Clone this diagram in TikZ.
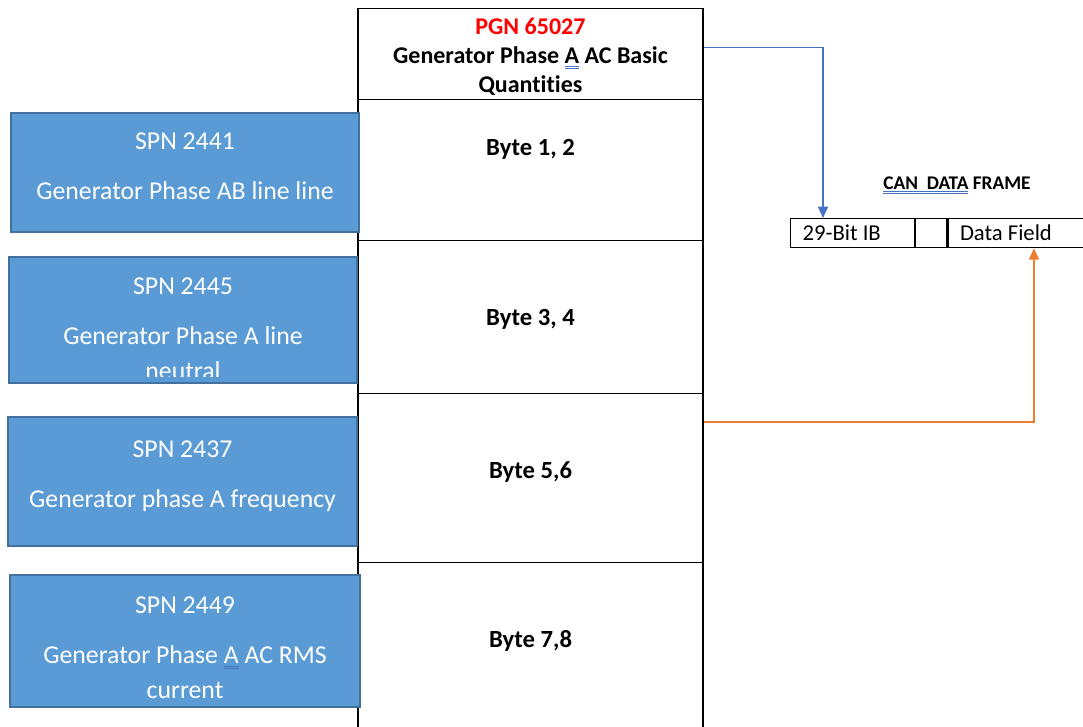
\documentclass[tikz,border=0pt]{standalone}
\usepackage{fontspec}
\setmainfont{Carlito}[Ligatures=NoCommon]
\usetikzlibrary{positioning,arrows.meta}

\definecolor{spnblue}{HTML}{5B9BD5}
\definecolor{spnedge}{HTML}{41719C}
\definecolor{linkblue}{HTML}{4472C4}
\definecolor{linkorange}{HTML}{ED7D31}
\definecolor{pgnred}{HTML}{FF0000}

% double blue spell-check underline
\newsavebox\spellbox
\newcommand\spellmark[1]{\sbox\spellbox{#1}%
  \rlap{\textcolor{linkblue}{\rule[-0.12em]{\wd\spellbox}{0.04em}}}%
  \rlap{\textcolor{linkblue}{\rule[-0.2em]{\wd\spellbox}{0.04em}}}%
  \usebox\spellbox}

\tikzset{
  spnbox/.style={draw=spnedge, line width=0.8pt, fill=spnblue, inner sep=0pt},
  spntxt/.style={text=white, font=\fontsize{19.3}{26.25}\selectfont, align=center},
  rowbox/.style={draw, line width=1.1pt, minimum width=258.75pt, anchor=north, inner sep=0pt},
  bytetxt/.style={font=\bfseries\fontsize{18.5}{22}\selectfont},
  cell/.style={draw, line width=0.9pt, minimum height=21.75pt, inner ysep=0pt, inner xsep=9pt,
    font=\fontsize{17}{20}\selectfont},
  link/.style={line width=1.1pt, -{Triangle[width=7.5pt,length=8.5pt]}}
}

\begin{document}
\begin{tikzpicture}[x=0.75pt,y=-0.75pt]
  \useasboundingbox (0,0) rectangle (1083,726);

  % PGN column
  \node[rowbox, minimum height=68.25pt] (hdr) at (530.5,8) {};
  \node[rowbox, minimum height=105.75pt] (row1) at (530.5,99) {};
  \node[rowbox, minimum height=114.75pt] (row2) at (530.5,240) {};
  \node[rowbox, minimum height=126.75pt] (row3) at (530.5,393) {};
  \node[rowbox, minimum height=135pt] (row4) at (530.5,562) {};

  \node[align=center, font=\bfseries\fontsize{18}{21.75}\selectfont] (hdrtxt) at (530.5,57)
        {\textcolor{pgnred}{PGN 65027}\\Generator Phase \spellmark{A} AC Basic\\Quantities};
  \node[bytetxt] (byte12) at (530.5,149) {Byte 1, 2};
  \node[bytetxt] (byte34) at (530.5,319) {Byte 3, 4};
  \node[bytetxt] (byte56) at (530.5,472) {Byte 5,6};
  \node[bytetxt] (byte78) at (530.5,641) {Byte 7,8};

  % SPN boxes
  \node[spnbox, minimum width=261pt, minimum height=89.25pt] (spnA) at (185,172.5) {};
  \node[spnbox, minimum width=261pt, minimum height=94.5pt] (spnB) at (183,320) {};
  \node[spnbox, minimum width=261.75pt, minimum height=96.75pt] (spnC) at (182.5,481.5) {};
  \node[spnbox, minimum width=262.5pt, minimum height=99pt] (spnD) at (185,641) {};

  \node[spntxt] (spnAnum) at (185,141) {SPN 2441};
  \node[spntxt] (spnAtxt) at (185,191) {Generator Phase AB line line};
  \node[spntxt] (spnBnum) at (183,286) {SPN 2445};
  \begin{scope}
    \clip (9,257) rectangle (357,376);
    \node[spntxt] (spnBtxt) at (183,353.5) {Generator Phase A line\\neutral};
  \end{scope}
  \node[spntxt] (spnCnum) at (182.5,449) {SPN 2437};
  \node[spntxt] (spnCtxt) at (182.5,501) {Generator phase A frequency};
  \node[spntxt] (spnDnum) at (185,605) {SPN 2449};
  \node[spntxt] (spnDtxt) at (185,672.5) {Generator Phase \spellmark{A} AC RMS\\current};

  % CAN frame
  \node[font=\bfseries\fontsize{14.5}{17}\selectfont] (canlbl) at (957,185) {\spellmark{CAN\ \ DATA} FRAME};
  \node[cell, anchor=north west] (idcell) at (790,218) {\makebox[75pt][l]{29-Bit IB}};
  \node[cell, minimum width=23.25pt, inner xsep=0pt, right=0pt of idcell] (gapcell) {};
  \node[cell, right=0pt of gapcell] (datacell) {\makebox[84.75pt][l]{Data Field}};

  % links
  \draw[link, linkblue] ([yshift=4.9pt]hdr.east) -| ([xshift=24.75pt]idcell.north west);
  \draw[link, linkorange] ([yshift=-21.75pt]row3.north east) -| ([xshift=13.1pt]datacell.south);
\end{tikzpicture}
\end{document}
